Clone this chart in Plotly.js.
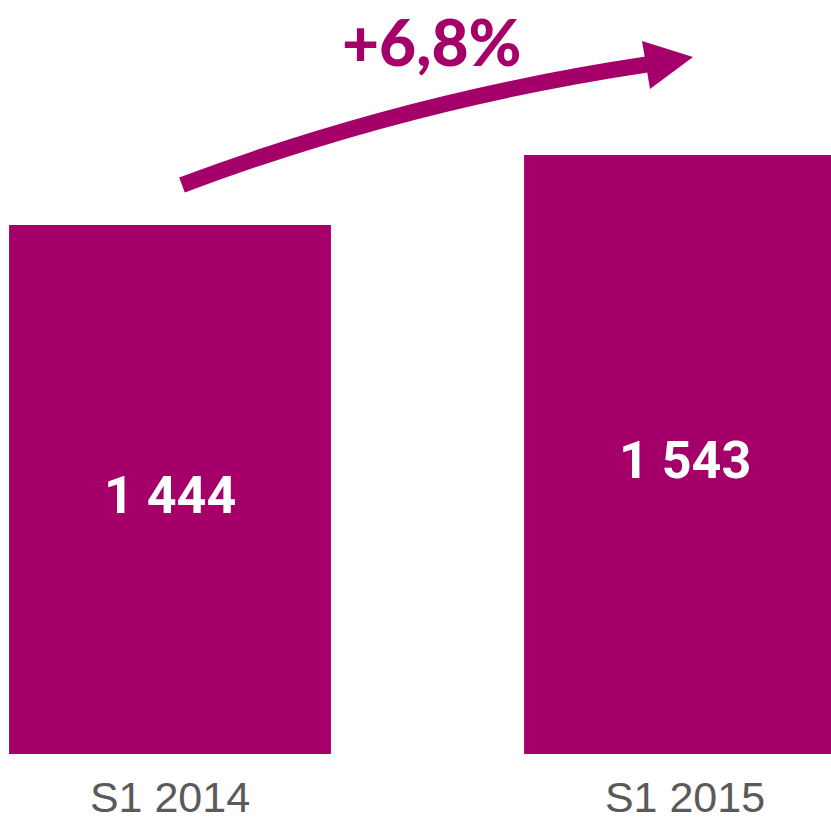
<!DOCTYPE html>
<html>
<head>
<meta charset="utf-8">
<script src="https://cdn.plot.ly/plotly-3.0.1.min.js"></script>
<style>html,body{margin:0;padding:0;background:#fff;}#chart{width:831px;height:821px;}</style>
</head>
<body>
<div id="chart"></div>
<script>
const categories = ["S1 2014", "S1 2015"];
const values = [1444, 1543];
const valueLabels = ["1 444", "1 543"];
const growthLabel = "+6,8%";

const magenta = "#A5006A";
const yFloor = 696, yCeil = 1762;

const bars = {
  type: "bar",
  x: categories,
  y: values,
  marker: {color: magenta, line: {width: 0}},
  hoverinfo: "skip"
};

const PH = 754;
const P = (px, py) => [(px / 831).toFixed(4), (1 - py / PH).toFixed(4)];
const t0 = P(182, 185), c0 = P(408, 100), e0 = P(650, 64);
const h1 = P(642, 41), h2 = P(693, 57), h3 = P(650, 89);

const valueAnnotations = categories.map((c, i) => ({
  xref: "x", yref: "y", x: c, y: (values[i] + yFloor) / 2, yshift: -6,
  xanchor: "center", yanchor: "middle", showarrow: false,
  text: valueLabels[i],
  font: {family: "Roboto, Arial, sans-serif", size: 52, color: "#ffffff", weight: "bold"}
}));

const layout = {
  width: 831,
  height: 821,
  margin: {l: 0, r: 0, t: 0, b: 67},
  paper_bgcolor: "#ffffff",
  plot_bgcolor: "#ffffff",
  bargap: 0.375,
  showlegend: false,
  xaxis: {
    type: "category",
    range: [-0.3301, 1.2835],
    showgrid: false, zeroline: false, showline: false,
    ticks: "",
    tickfont: {family: "Liberation Sans, Arial, sans-serif", size: 43, color: "#5a5a5a"},
    ticklabelstandoff: 14,
    fixedrange: true
  },
  yaxis: {
    range: [yFloor, yCeil],
    visible: false,
    fixedrange: true
  },
  shapes: [
    {type: "path", xref: "paper", yref: "paper",
     path: `M ${t0[0]} ${t0[1]} Q ${c0[0]} ${c0[1]} ${e0[0]} ${e0[1]}`,
     line: {color: magenta, width: 16}, fillcolor: "rgba(0,0,0,0)"},
    {type: "path", xref: "paper", yref: "paper",
     path: `M ${h1[0]} ${h1[1]} L ${h2[0]} ${h2[1]} L ${h3[0]} ${h3[1]} Z`,
     line: {color: magenta, width: 0}, fillcolor: magenta}
  ],
  annotations: [
    {xref: "paper", yref: "paper", x: 0.519, y: 1 - 41 / PH, xanchor: "center", yanchor: "middle",
     text: growthLabel, showarrow: false,
     font: {family: "Lato, Roboto, sans-serif", size: 64, color: magenta, weight: 900}}
  ].concat(valueAnnotations)
};

Plotly.newPlot("chart", [bars], layout, {staticPlot: true, displayModeBar: false});
</script>
</body>
</html>
